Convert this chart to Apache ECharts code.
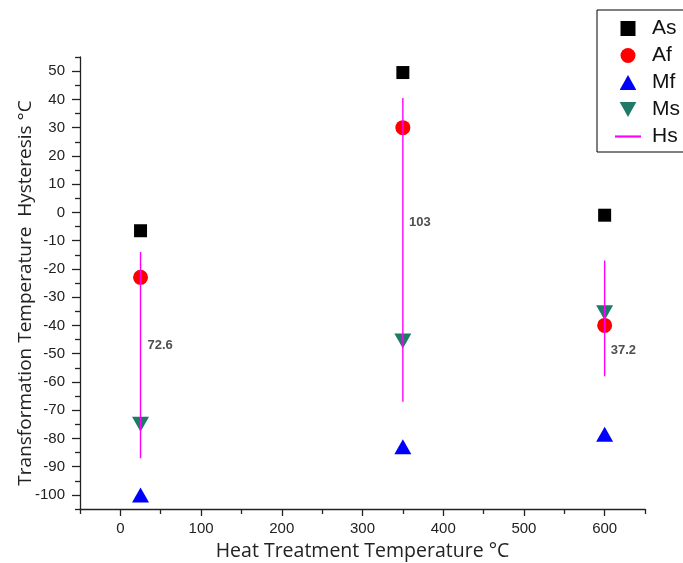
<!DOCTYPE html>
<html>
<head>
<meta charset="utf-8">
<script src="https://cdn.jsdelivr.net/npm/echarts@6/dist/echarts.min.js"></script>
<style>
html,body{margin:0;padding:0;background:#fff}
#main{width:683px;height:563px}
</style>
</head>
<body>
<div id="main"></div>
<script>
// heat treatment temperatures (x) and transformation temperatures (y)
var heatTemp = [25, 350, 600];
var asVals = [-6.5, 49.5, -1];
var afVals = [-23, 30, -40];
var mfVals = [-100, -83, -78.5];
var msVals = [-75, -45.5, -35.5];

// hysteresis bars + their labels
var hsTop = [-14, 40.5, -17];
var hsBottom = [-87, -67, -58];
var hsLabels = ['72.6', '103', '37.2'];
var hsLabelX = [33, 357, 607];
var hsLabelY = [-47, -3.5, -49];

// tick labels
var xTicks = [0, 100, 200, 300, 400, 500, 600];
var xMinorTicks = [-50, 50, 150, 250, 350, 450, 550, 650];
var yTicks = [-100, -90, -80, -70, -60, -50, -40, -30, -20, -10, 0, 10, 20, 30, 40, 50];
var yMinorTicks = [-105, -95, -85, -75, -65, -55, -45, -35, -25, -15, -5, 5, 15, 25, 35, 45, 55];

function pairs(ys){
    return heatTemp.map(function(x, i){ return [x, ys[i]]; });
}

var hsData = [];
for (let i = 0; i < heatTemp.length; i++) {
    hsData.push([heatTemp[i], hsTop[i]]);
    hsData.push([heatTemp[i], hsBottom[i]]);
    hsData.push([heatTemp[i], '-']);
}
var lblData = hsLabels.map(function(t, i){ return [hsLabelX[i], hsLabelY[i], t]; });

var axisColor = '#222';
var tickFont = {color: '#222', fontSize: 15, fontFamily: 'Liberation Sans'};

var myChart = echarts.init(document.getElementById('main'));

var option = {
    backgroundColor: '#fff',
    animation: false,
    grid: {left: 80, right: 38, top: 57, bottom: 54, containLabel: false, outerBoundsMode: 'none'},
    legend: {
        orient: 'vertical',
        left: 597,
        top: 10,
        padding: [8, 40, 5, 18],
        itemWidth: 26,
        itemHeight: 15,
        itemGap: 6,
        borderColor: '#000',
        borderWidth: 1,
        borderRadius: 0,
        textStyle: {color: '#111', fontSize: 21, fontFamily: 'Liberation Sans', padding: [0, 0, 0, 6]},
        data: [
            {name: 'As', icon: 'path://M0,0h10v10h-10z'},
            {name: 'Af', icon: 'circle'},
            {name: 'Mf', icon: 'path://M5,0L10,9L0,9Z'},
            {name: 'Ms', icon: 'path://M0,0L10,0L5,9Z'},
            {name: 'Hs', icon: 'path://M0,0h12v1h-12z'}
        ]
    },
    xAxis: [{
        type: 'value',
        min: -50,
        max: 650,
        name: 'Heat Treatment Temperature °C',
        nameLocation: 'middle',
        nameGap: 32,
        nameTextStyle: {color: '#222', fontSize: 19.5, fontFamily: 'Open Sans'},
        splitLine: {show: false},
        axisLine: {onZero: false, lineStyle: {color: axisColor, width: 1.3}},
        axisTick: {length: 7, customValues: xTicks, lineStyle: {color: axisColor, width: 1.3}},
        axisLabel: {margin: 12, customValues: xTicks, ...tickFont}
    }, {
        type: 'value',
        min: -50,
        max: 650,
        position: 'bottom',
        splitLine: {show: false},
        axisLine: {show: false, onZero: false},
        axisLabel: {show: false},
        axisTick: {length: 5, customValues: xMinorTicks, lineStyle: {color: axisColor, width: 1.3}}
    }],
    yAxis: [{
        type: 'value',
        min: -105,
        max: 55,
        name: 'Transformation Temperature  Hysteresis °C',
        nameLocation: 'middle',
        nameGap: 45,
        nameMoveOverlap: false,
        nameTextStyle: {color: '#222', fontSize: 19, fontFamily: 'Open Sans', padding: [0, 20, 0, 0]},
        splitLine: {show: false},
        axisLine: {onZero: false, lineStyle: {color: axisColor, width: 1.3}},
        axisTick: {length: 8, customValues: yTicks, lineStyle: {color: axisColor, width: 1.3}},
        axisLabel: {margin: 15, customValues: yTicks, ...tickFont}
    }, {
        type: 'value',
        min: -105,
        max: 55,
        position: 'left',
        splitLine: {show: false},
        axisLine: {show: false, onZero: false},
        axisLabel: {show: false},
        axisTick: {length: 5, customValues: yMinorTicks, lineStyle: {color: axisColor, width: 1.3}}
    }],
    series: [
        {name: 'As', type: 'scatter', symbol: 'rect', symbolSize: 13,
            itemStyle: {color: '#000', opacity: 1}, data: pairs(asVals)},
        {name: 'Af', type: 'scatter', symbol: 'circle', symbolSize: 15,
            itemStyle: {color: '#ff0000', opacity: 1}, data: pairs(afVals)},
        {name: 'Mf', type: 'scatter', symbol: 'triangle', symbolSize: [17, 15],
            itemStyle: {color: '#0000ff', opacity: 1}, data: pairs(mfVals)},
        {name: 'Ms', type: 'scatter', symbol: 'triangle', symbolSize: [17, 15], symbolRotate: 180,
            itemStyle: {color: '#1f7a68', opacity: 1}, data: pairs(msVals)},
        {name: 'Hs', type: 'line', symbol: 'none', connectNulls: false, z: 5,
            lineStyle: {color: '#ff00ff', width: 1.4}, itemStyle: {color: '#ff00ff'},
            data: hsData},
        {name: 'lbl', type: 'scatter', symbolSize: 1, itemStyle: {color: 'rgba(0,0,0,0)'},
            label: {show: true, position: 'right', distance: 0, color: '#222',
                fontSize: 13, fontWeight: 'bold', fontFamily: 'Liberation Sans',
                formatter: function(p){ return p.value[2]; }},
            data: lblData}
    ]
};

myChart.setOption(option, true);
</script>
</body>
</html>
